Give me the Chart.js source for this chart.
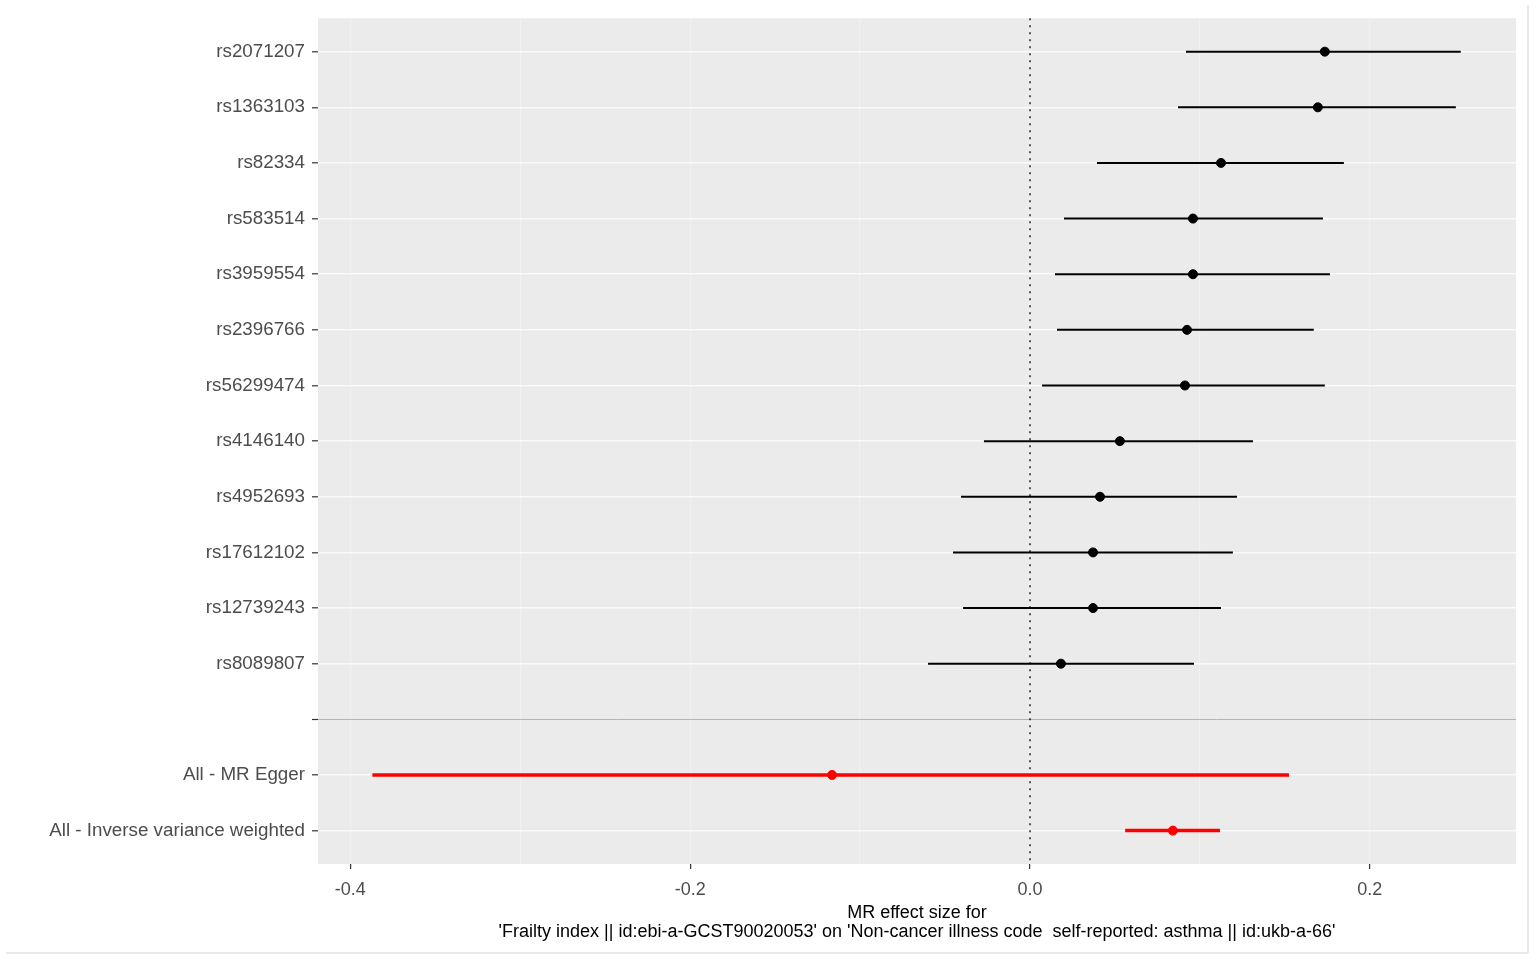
<!DOCTYPE html>
<html>
<head>
<meta charset="utf-8">
<script src="https://cdn.jsdelivr.net/npm/chart.js@4.4.1/dist/chart.umd.min.js"></script>
<style>
  html, body { margin: 0; padding: 0; background: #ffffff; }
  #wrap { width: 1536px; height: 960px; }
</style>
</head>
<body>
<div id="wrap"><canvas id="forest"></canvas></div>
<script>
// rows from top to bottom; the empty label is the gap before the summary rows
const rowLabels = [
  'rs2071207', 'rs1363103', 'rs82334', 'rs583514', 'rs3959554', 'rs2396766',
  'rs56299474', 'rs4146140', 'rs4952693', 'rs17612102', 'rs12739243', 'rs8089807',
  '', 'All - MR Egger', 'All - Inverse variance weighted'
];
const snpRows = [0, 1, 2, 3, 4, 5, 6, 7, 8, 9, 10, 11];
const snpEffect = [0.1735, 0.1694, 0.1124, 0.0959, 0.0959, 0.0924, 0.0912, 0.0529, 0.0412, 0.0371, 0.0371, 0.0182];
const snpLower  = [0.0918, 0.0871, 0.0394, 0.0200, 0.0147, 0.0159, 0.0071, -0.0271, -0.0406, -0.0453, -0.0394, -0.0600];
const snpUpper  = [0.2535, 0.2506, 0.1847, 0.1724, 0.1765, 0.1670, 0.1735, 0.1312, 0.1218, 0.1194, 0.1124, 0.0965];

const mrRows = [13, 14];
const mrEffect = [-0.1165, 0.0841];
const mrLower  = [-0.3870, 0.0560];
const mrUpper  = [0.1524, 0.1118];

const xTitle = [
  'MR effect size for',
  "'Frailty index || id:ebi-a-GCST90020053' on 'Non-cancer illness code  self-reported: asthma || id:ukb-a-66'"
];

const gapRow = 12;

const datasets = [];
snpRows.forEach((r, i) => {
  datasets.push({
    type: 'line',
    data: [{ x: snpLower[i], y: r }, { x: snpUpper[i], y: r }],
    borderColor: '#000000',
    borderWidth: 2,
    pointRadius: 0
  });
});
mrRows.forEach((r, i) => {
  datasets.push({
    type: 'line',
    data: [{ x: mrLower[i], y: r }, { x: mrUpper[i], y: r }],
    borderColor: '#ff0000',
    borderWidth: 3.5,
    pointRadius: 0
  });
});
datasets.push({
  type: 'scatter',
  data: snpRows.map((r, i) => ({ x: snpEffect[i], y: r })),
  backgroundColor: '#000000',
  borderColor: '#000000',
  pointRadius: 4.5
});
datasets.push({
  type: 'scatter',
  data: mrRows.map((r, i) => ({ x: mrEffect[i], y: r })),
  backgroundColor: '#ff0000',
  borderColor: '#ff0000',
  pointRadius: 4.5
});

const panelBackground = {
  id: 'panelBackground',
  beforeDraw(chart) {
    const a = chart.chartArea;
    const ctx = chart.ctx;
    ctx.save();
    ctx.fillStyle = '#ebebeb';
    ctx.fillRect(a.left, a.top, a.right - a.left, a.bottom - a.top);
    ctx.restore();
  }
};

const zeroLine = {
  id: 'zeroLine',
  beforeDatasetsDraw(chart) {
    const a = chart.chartArea;
    const ctx = chart.ctx;
    const x = chart.scales.x.getPixelForValue(0);
    ctx.save();
    ctx.strokeStyle = '#000000';
    ctx.lineWidth = 1.3;
    ctx.setLineDash([2, 5]);
    ctx.beginPath();
    ctx.moveTo(x, a.top);
    ctx.lineTo(x, a.bottom);
    ctx.stroke();
    ctx.restore();
  },
  afterDraw(chart) {
    const ctx = chart.ctx;
    ctx.save();
    ctx.strokeStyle = '#e2e2e2';
    ctx.lineWidth = 1.5;
    ctx.beginPath();
    ctx.moveTo(6, 953);
    ctx.lineTo(1528, 953);
    ctx.moveTo(1528, 5);
    ctx.lineTo(1528, 953);
    ctx.stroke();
    ctx.restore();
  }
};

const isMajor = v => Math.abs(Math.round(v * 10)) % 2 === 0;

new Chart(document.getElementById('forest'), {
  data: { datasets: datasets },
  options: {
    responsive: true,
    maintainAspectRatio: false,
    animation: false,
    layout: { padding: { top: 18, right: 20, left: 0, bottom: 18 } },
    plugins: {
      legend: { display: false },
      tooltip: { enabled: false }
    },
    scales: {
      x: {
        type: 'linear',
        min: -0.419,
        max: 0.286,
        border: { display: false },
        afterBuildTicks(scale) {
          const t = [];
          for (let k = -4; k <= 2; k++) t.push({ value: k / 10 });
          scale.ticks = t;
        },
        afterFit(scale) { scale.height = 78; },
        grid: {
          color: 'rgba(255,255,255,0.3)',
          lineWidth: 1.2,
          tickLength: 5,
          tickColor: ctx => isMajor(ctx.tick.value) ? '#333333' : 'rgba(0,0,0,0)',
          tickWidth: 1.2
        },
        ticks: {
          autoSkip: false,
          maxRotation: 0,
          padding: 10,
          color: '#4d4d4d',
          font: { family: 'Liberation Sans, Arial, sans-serif', size: 18 },
          callback: v => isMajor(v) ? v.toFixed(1) : ''
        },
        title: {
          display: true,
          text: xTitle,
          color: '#000000',
          padding: { top: 4, bottom: 0 },
          font: { family: 'Liberation Sans, Arial, sans-serif', size: 18, lineHeight: 1.06 }
        }
      },
      y: {
        type: 'linear',
        min: -0.6,
        max: 14.6,
        reverse: true,
        border: { display: false },
        afterBuildTicks(scale) {
          scale.ticks = rowLabels.map((l, i) => ({ value: i }));
        },
        afterFit(scale) { scale.width = 318; },
        grid: {
          color: ctx => ctx.tick && ctx.tick.value === gapRow ? '#b3b3b3' : 'rgba(255,255,255,0.75)',
          lineWidth: ctx => ctx.tick && ctx.tick.value === gapRow ? 1 : 1.6,
          tickLength: 6,
          tickColor: '#333333',
          tickWidth: 1.2
        },
        ticks: {
          autoSkip: false,
          padding: 7,
          color: '#4d4d4d',
          font: { family: 'Liberation Sans, Arial, sans-serif', size: 18.8 },
          callback: v => rowLabels[v]
        }
      }
    }
  },
  plugins: [panelBackground, zeroLine]
});
</script>
</body>
</html>
